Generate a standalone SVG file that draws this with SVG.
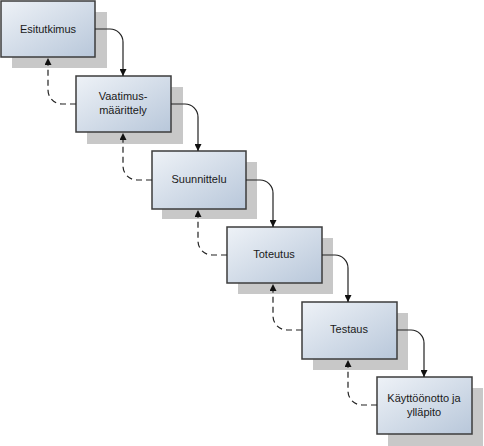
<svg xmlns="http://www.w3.org/2000/svg" width="484" height="446" viewBox="0 0 484 446">
<defs>
<linearGradient id="g" x1="0" y1="0" x2="1" y2="1">
<stop offset="0" stop-color="#eef2f7"/>
<stop offset="1" stop-color="#b8c7da"/>
</linearGradient>
<marker id="ah" viewBox="0 0 10 10" refX="10" refY="5" markerWidth="7" markerHeight="7" markerUnits="userSpaceOnUse" orient="auto">
<path d="M0,0 L10,5 L0,10 z" fill="#111"/>
</marker>
<style>
.sh{fill:#c8c8c8}
.bx{fill:url(#g);stroke:#3c3c3c;stroke-width:1.5}
.t{font-family:"Liberation Sans",Arial,sans-serif;font-size:11px;fill:#1a1a1a;text-anchor:middle}
.s{fill:none;stroke:#222;stroke-width:1.2;marker-end:url(#ah)}
.d{fill:none;stroke:#222;stroke-width:1.2;stroke-dasharray:6,4;marker-end:url(#ah)}
</style>
</defs>
<rect width="484" height="446" fill="#fff"/>
<g id="n1">
<rect class="sh" x="12" y="12" width="95" height="56"/>
<rect class="bx" x="1" y="1" width="94" height="56"/>
<text class="t" x="48" y="33">Esitutkimus</text>
</g>
<g id="n2">
<rect class="sh" x="87" y="87" width="96" height="57"/>
<rect class="bx" x="76" y="76" width="95" height="56"/>
<text class="t" x="123" y="100">Vaatimus-</text>
<text class="t" x="123" y="114">määrittely</text>
</g>
<g id="n3">
<rect class="sh" x="162" y="162" width="95" height="57"/>
<rect class="bx" x="152" y="151" width="94" height="58"/>
<text class="t" x="199" y="183">Suunnittelu</text>
</g>
<g id="n4">
<rect class="sh" x="238" y="238" width="95" height="56"/>
<rect class="bx" x="227" y="227" width="95" height="56"/>
<text class="t" x="274" y="258">Toteutus</text>
</g>
<g id="n5">
<rect class="sh" x="313" y="313" width="95" height="57"/>
<rect class="bx" x="302" y="302" width="95" height="57"/>
<text class="t" x="349" y="333">Testaus</text>
</g>
<g id="n6">
<rect class="sh" x="388" y="388" width="95" height="58"/>
<rect class="bx" x="377" y="377" width="95" height="57"/>
<text class="t" x="424" y="402">Käyttöönotto ja</text>
<text class="t" x="424" y="416">ylläpito</text>
</g>
<g id="connectors">
<path class="s" d="M95,29 H110 A13,13 0 0 1 123,42 V76"/>
<path class="s" d="M171,104 H185 A13,13 0 0 1 198,117 V151"/>
<path class="s" d="M246,180 H260 A13,13 0 0 1 273,193 V227"/>
<path class="s" d="M322,255 H335 A13,13 0 0 1 348,268 V302"/>
<path class="s" d="M397,330 H411 A13,13 0 0 1 424,343 V377"/>
<path class="d" d="M76,104 H62 A14,14 0 0 1 48,90 V58"/>
<path class="d" d="M152,180 H137 A14,14 0 0 1 123,166 V133"/>
<path class="d" d="M227,255 H212 A14,14 0 0 1 198,241 V210"/>
<path class="d" d="M302,330 H287 A14,14 0 0 1 273,316 V284"/>
<path class="d" d="M377,405 H362 A14,14 0 0 1 348,391 V360"/>
</g>
</svg>
